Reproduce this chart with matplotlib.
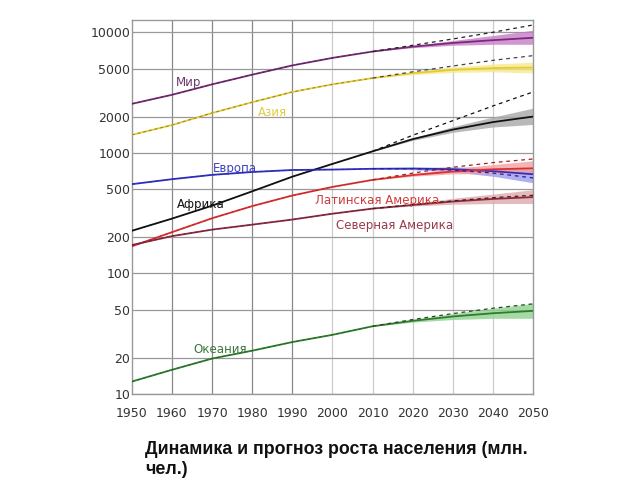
import matplotlib
matplotlib.use("Agg")
import matplotlib.pyplot as plt
import numpy as np

years = [1950, 1960, 1970, 1980, 1990, 2000, 2010, 2020, 2030, 2040, 2050]
proj_years = [2010, 2020, 2030, 2040, 2050]

# medians (million people)
world = [2550, 3030, 3700, 4450, 5310, 6130, 6920, 7600, 8150, 8600, 9000]
asia = [1410, 1700, 2140, 2630, 3200, 3700, 4170, 4580, 4880, 5050, 5100]
africa = [226, 285, 365, 480, 635, 810, 1030, 1300, 1560, 1800, 2000]
europe = [550, 605, 657, 694, 721, 727, 738, 742, 732, 705, 665]
latam = [168, 220, 287, 362, 443, 522, 597, 655, 700, 730, 745]
namer = [172, 204, 231, 254, 280, 313, 345, 370, 395, 415, 430]
oceania = [12.7, 15.9, 19.7, 22.9, 27.0, 31.0, 36.5, 40.5, 44.0, 46.8, 49.0]

# uncertainty band (low, high) for 2010..2050
world_lo = [6920, 7450, 7800, 7950, 7950]
world_hi = [6920, 7750, 8550, 9400, 10400]
asia_lo = [4170, 4450, 4650, 4700, 4600]
asia_hi = [4170, 4700, 5150, 5450, 5650]
africa_lo = [1030, 1270, 1480, 1640, 1720]
africa_hi = [1030, 1330, 1650, 1980, 2350]
europe_lo = [738, 725, 695, 640, 565]
europe_hi = [738, 757, 765, 755, 735]
latam_lo = [597, 640, 670, 675, 665]
latam_hi = [597, 672, 740, 800, 860]
namer_lo = [345, 362, 375, 380, 380]
namer_hi = [345, 380, 420, 455, 495]
oceania_lo = [36.5, 39.5, 41.5, 42.5, 42.5]
oceania_hi = [36.5, 41.5, 46.5, 51.5, 56.5]

# dashed high-fertility projection 2010..2050
world_d = [6920, 7800, 8800, 10000, 11500]
asia_d = [4170, 4700, 5250, 5850, 6400]
africa_d = [1030, 1400, 1850, 2450, 3200]
europe_d = [738, 740, 720, 680, 620]
latam_d = [597, 680, 760, 830, 890]
namer_d = [345, 372, 400, 425, 445]
oceania_d = [36.5, 41.5, 46.5, 51.5, 56.0]

series = [
    ("Мир", world, world_lo, world_hi, world_d, "#7a2a78", "#c77cc7", "#222222", 1961, 3850),
    ("Азия", asia, asia_lo, asia_hi, asia_d, "#e6cc2e", "#f6e98e", "#444444", 1981.3, 2150),
    ("Африка", africa, africa_lo, africa_hi, africa_d, "#111111", "#a8a8a8", "#111111", 1961.3, 372),
    ("Европа", europe, europe_lo, europe_hi, europe_d, "#3030c0", "#9a9aee", "#2020a0", 1970.2, 740),
    ("Латинская Америка", latam, latam_lo, latam_hi, latam_d, "#d93030", "#f4a0a0", "#a02020", 1995.6, 402),
    ("Северная Америка", namer, namer_lo, namer_hi, namer_d, "#8c2c44", "#dcaaaa", "#4a1a20", 2001, 250),
    ("Океания", oceania, oceania_lo, oceania_hi, oceania_d, "#2e7d2e", "#8fd18f", "#1e4e1e", 1965.3, 23.4),
]
label_colors = {
    "Мир": "#6a3a6a", "Азия": "#e0cc40", "Африка": "#111111", "Европа": "#4040c0",
    "Латинская Америка": "#d03a3a", "Северная Америка": "#9a3a4a", "Океания": "#3a7a3a",
}

fig = plt.figure(figsize=(6.4, 4.8), dpi=100)
ax = fig.add_axes([0.206, 0.179, 0.627, 0.779])

for name, med, lo, hi, dash, col, band, dcol, lx, ly in series:
    ax.fill_between(proj_years, lo, hi, color=band, alpha=0.8, lw=0, zorder=2)
    ax.plot(years, med, color=col, lw=1.3, zorder=3)
    ax.plot(years[:7], med[:7], color=dcol, lw=0.7, alpha=0.55, ls=(0, (3, 3)), zorder=4)
    ax.plot(proj_years, dash, color=dcol, lw=0.9, ls=(0, (3, 3)), zorder=4)
    ax.text(lx, ly, name, color=label_colors[name], fontsize=8.5, va="center", ha="left", zorder=5)

ax.set_yscale("log")
ax.set_xlim(1950, 2050)
ax.set_ylim(10, 12600)
yt = [10, 20, 50, 100, 200, 500, 1000, 2000, 5000, 10000]
ax.set_yticks(yt)
ax.set_yticklabels([str(v) for v in yt])
ax.minorticks_off()
ax.set_xticks(range(1950, 2051, 10))
ax.tick_params(length=0, labelsize=9, labelcolor="#333333")
ax.tick_params(axis="y", pad=1)
ax.tick_params(axis="x", pad=9)

for x in range(1960, 2050, 10):
    ax.axvline(x, color="#888888" if x < 2000 else "#cccccc", lw=0.9, zorder=1)
for v in yt:
    ax.axhline(v, color="#999999", lw=0.9, zorder=1)
for s in ax.spines.values():
    s.set_color("#999999")
    s.set_linewidth(1.0)

fig.text(0.227, 0.004, "Динамика и прогноз роста населения (млн.\nчел.)",
         family=["Liberation Sans", "DejaVu Sans"], fontweight="bold",
         fontsize=12.8, color="#111111", ha="left", va="bottom", linespacing=1.25)

fig.savefig("out.png", dpi=100)
